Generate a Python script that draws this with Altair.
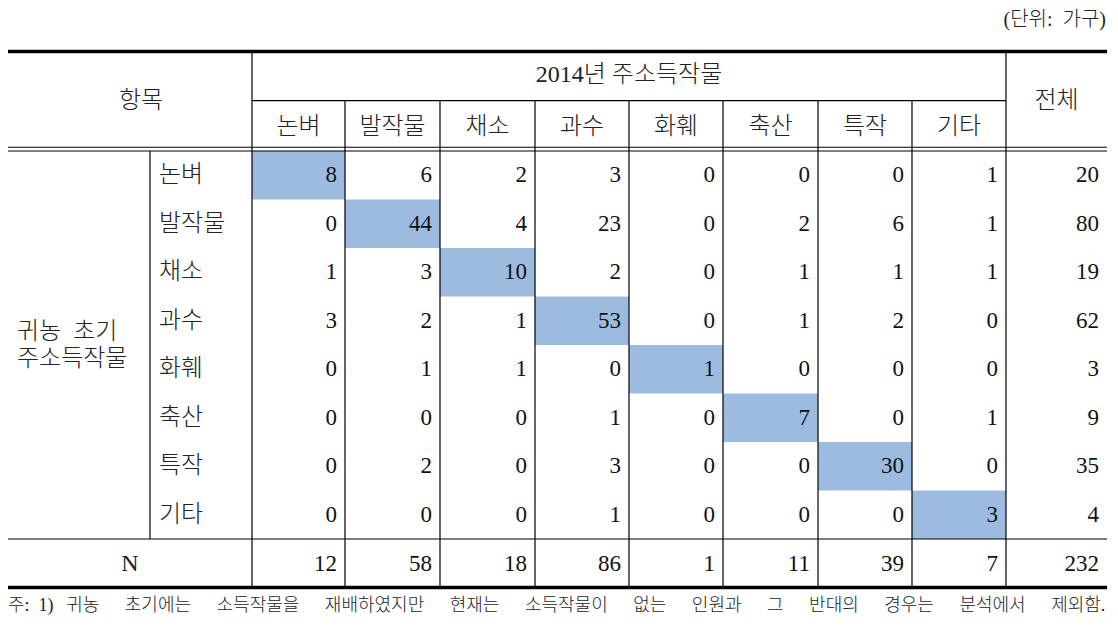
import altair as alt
import pandas as pd

# ---------------- data ----------------
crops = ["논벼", "발작물", "채소", "과수", "화훼", "축산", "특작", "기타"]
counts = [
    [8, 6, 2, 3, 0, 0, 0, 1],
    [0, 44, 4, 23, 0, 2, 6, 1],
    [1, 3, 10, 2, 0, 1, 1, 1],
    [3, 2, 1, 53, 0, 1, 2, 0],
    [0, 1, 1, 0, 1, 0, 0, 0],
    [0, 0, 0, 1, 0, 7, 0, 1],
    [0, 2, 0, 3, 0, 0, 30, 0],
    [0, 0, 0, 1, 0, 0, 0, 3],
]
row_totals = [20, 80, 19, 62, 3, 9, 35, 4]
col_totals = [12, 58, 18, 86, 1, 11, 39, 7]
grand_total = 232
group_header = "2014년 주소득작물"
total_header = "전체"
item_header = "항목"
side_label = ["귀농\u2002초기", "주소득작물"]
n_label = "N"
unit_text = "(단위:\u2002가구)"
note_prefix = "주: 1)"
note_body = "귀농 초기에는 소득작물을 재배하였지만 현재는 소득작물이 없는 인원과 그 반대의 경우는 분석에서 제외함."

# ---------------- layout (page pixels) ----------------
LEFT, INNER, MAIN, RIGHT = 8, 150, 252, 1107
col_edges = [252, 345, 440, 535, 629, 723, 818, 912, 1006]
TOTAL_L = col_edges[-1]
TOP = 51.5
SUB = 100.7
DBL1, DBL2 = 147.3, 151.0
ROW_H = 48.5
N_TOP = DBL2 + 8 * ROW_H
BOTTOM = 587.5
PAD = 8
FONT = "Liberation Serif, Noto Sans CJK KR"
BLUE = "#9dbbe0"

W, H = 1102, 616
xs = alt.Scale(domain=[8, 8 + W], nice=False, zero=False)
ys = alt.Scale(domain=[8, 8 + H], nice=False, zero=False, reverse=True)


def row_mid(i):
    return DBL2 + ROW_H * (i + 0.5)


# highlighted diagonal cells
cells = pd.DataFrame([
    {"x": col_edges[i], "x2": col_edges[i + 1], "y": DBL2 + ROW_H * i, "y2": DBL2 + ROW_H * (i + 1)}
    for i in range(len(crops))
])

# lines
lines = []
def hline(x, x2, y, w):
    lines.append({"x": x, "x2": x2, "y": y, "y2": y, "w": w})
def vline(x, y, y2, w):
    lines.append({"x": x, "x2": x, "y": y, "y2": y2, "w": w})

hline(LEFT, RIGHT, TOP, 3.5)
hline(MAIN, TOTAL_L, SUB, 1.2)
hline(LEFT, RIGHT, DBL1, 1.1)
hline(LEFT, RIGHT, DBL2, 1.1)
hline(LEFT, RIGHT, N_TOP, 1.2)
hline(LEFT, RIGHT, BOTTOM, 3.5)
vline(MAIN, TOP, BOTTOM, 1.2)
vline(TOTAL_L, TOP, BOTTOM, 1.2)
for e in col_edges[1:-1]:
    vline(e, SUB, BOTTOM, 1.2)
vline(INNER, DBL2, N_TOP, 1.2)
lines = pd.DataFrame(lines)

# numbers (right aligned)
nums = []
for i in range(len(crops)):
    for j in range(len(crops)):
        nums.append({"x": col_edges[j + 1] - PAD, "y": row_mid(i), "t": str(counts[i][j])})
    nums.append({"x": RIGHT - PAD, "y": row_mid(i), "t": str(row_totals[i])})
for j in range(len(crops)):
    nums.append({"x": col_edges[j + 1] - PAD, "y": N_TOP + ROW_H / 2 + 1, "t": str(col_totals[j])})
nums.append({"x": RIGHT - PAD, "y": N_TOP + ROW_H / 2 + 1, "t": str(grand_total)})
nums = pd.DataFrame(nums)

# centered labels
centered = [
    {"x": 141, "y": 101, "t": item_header},
    {"x": (MAIN + TOTAL_L) / 2, "y": 75, "t": group_header},
    {"x": (TOTAL_L + RIGHT) / 2, "y": 101, "t": total_header},
    {"x": (LEFT + MAIN) / 2, "y": N_TOP + ROW_H / 2 + 1, "t": n_label},
]
for j, c in enumerate(crops):
    centered.append({"x": (col_edges[j] + col_edges[j + 1]) / 2, "y": 127, "t": c})
centered = pd.DataFrame(centered)

# left labels
lefts = [{"x": 159, "y": row_mid(i), "t": c} for i, c in enumerate(crops)]
lefts.append({"x": 17, "y": (DBL2 + N_TOP) / 2 - 13, "t": side_label[0]})
lefts.append({"x": 17, "y": (DBL2 + N_TOP) / 2 + 14, "t": side_label[1]})
lefts = pd.DataFrame(lefts)

unit = pd.DataFrame([{"x": 1106, "y": 20, "t": unit_text}])
note_full = note_prefix.replace(" ", "\u2002") + "\u2002\u2009" + note_body.replace(" ", "\u2003\u2004\u200a")
note = pd.DataFrame([{"x": LEFT, "y": 606, "t": note_full}])


def enc_xy(chart):
    return chart.encode(
        x=alt.X("x:Q", scale=xs, axis=None),
        y=alt.Y("y:Q", scale=ys, axis=None),
    )


rects = alt.Chart(cells).mark_rect(color=BLUE).encode(
    x=alt.X("x:Q", scale=xs, axis=None), x2="x2:Q",
    y=alt.Y("y:Q", scale=ys, axis=None), y2="y2:Q",
)
rules = alt.Chart(lines).mark_rule(color="black").encode(
    x=alt.X("x:Q", scale=xs, axis=None), x2="x2:Q",
    y=alt.Y("y:Q", scale=ys, axis=None), y2="y2:Q",
    strokeWidth=alt.StrokeWidth("w:Q", scale=None),
)
num_text = enc_xy(alt.Chart(nums).mark_text(
    align="right", baseline="middle", font=FONT, fontSize=23, color="#111"
)).encode(text="t:N")
ctr_text = enc_xy(alt.Chart(centered).mark_text(
    align="center", baseline="middle", font=FONT, fontSize=24, color="#222", fontWeight=300
)).encode(text="t:N")
left_text = enc_xy(alt.Chart(lefts).mark_text(
    align="left", baseline="middle", font=FONT, fontSize=24, color="#222", fontWeight=300
)).encode(text="t:N")
unit_t = enc_xy(alt.Chart(unit).mark_text(
    align="right", baseline="middle", font=FONT, fontSize=20, color="#222", fontWeight=300
)).encode(text="t:N")
note_t = enc_xy(alt.Chart(note).mark_text(
    align="left", baseline="middle", font=FONT, fontSize=18, color="#222", fontWeight=300
)).encode(text="t:N")

chart = alt.layer(rects, rules, num_text, ctr_text, left_text, unit_t, note_t).properties(
    width=W, height=H, padding=0, autosize=alt.AutoSizeParams(type="none"),
).configure_view(strokeWidth=0)

chart.save("out.html", embed_options={"renderer": "svg", "actions": False})
